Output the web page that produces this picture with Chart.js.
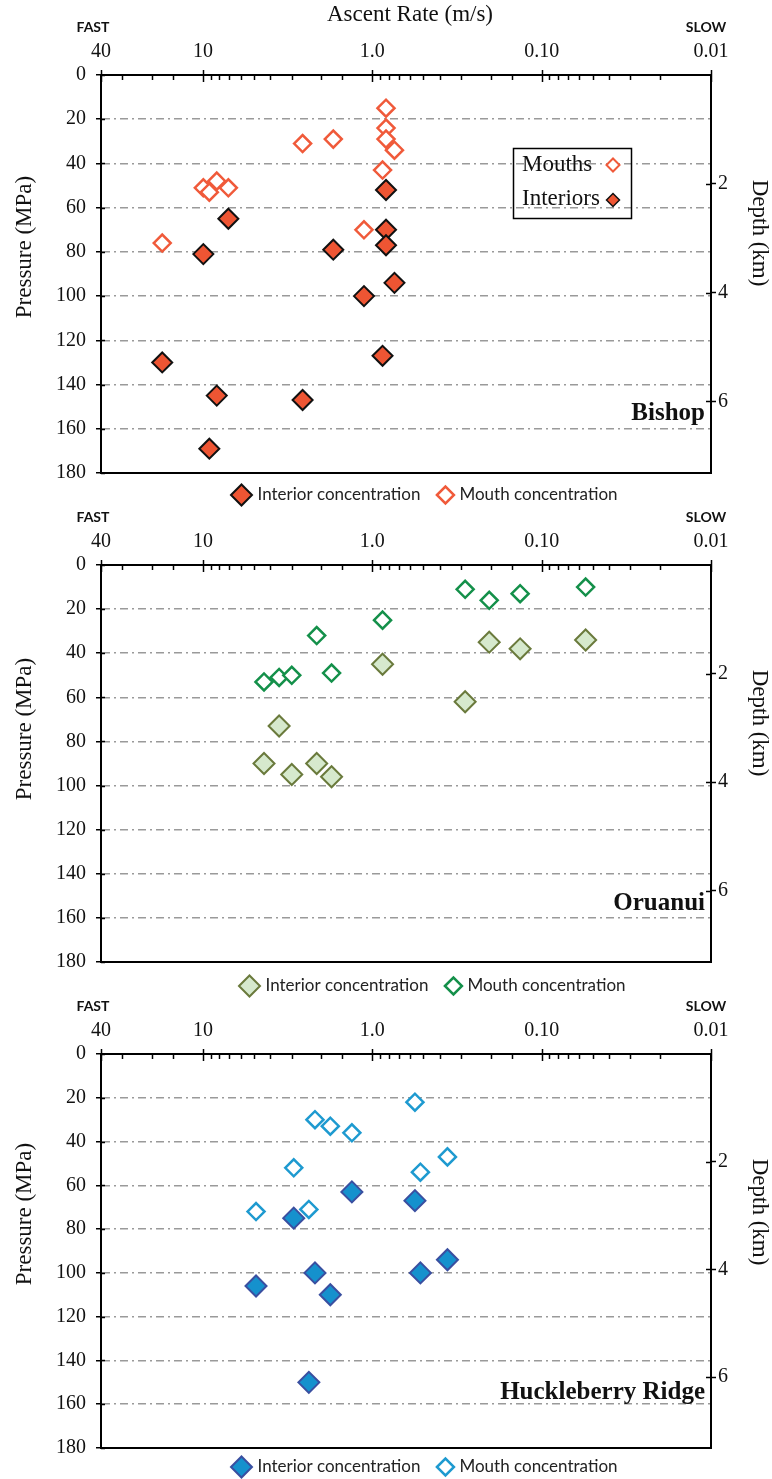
<!DOCTYPE html>
<html>
<head>
<meta charset="utf-8">
<script src="https://cdn.jsdelivr.net/npm/chart.js@4.4.0/dist/chart.umd.min.js"></script>
<style>
  body { margin: 0; background: #fff; }
  #wrap { position: relative; width: 772px; height: 1479px; }
  canvas { position: absolute; left: 0; }
</style>
</head>
<body>
<div id="wrap">
  <canvas id="bishop" width="772" height="510" style="top:0"></canvas>
  <canvas id="oruanui" width="772" height="490" style="top:510px"></canvas>
  <canvas id="huckleberry" width="772" height="479" style="top:1000px"></canvas>
</div>
<script>
// axis ticks
const rateTicks = [40, 10, 1, 0.1, 0.01];
const rateTickText = ['40', '10', '1.0', '0.10', '0.01'];
const depthTicks = [2, 4, 6];
const seriesNames = ['Interior concentration', 'Mouth concentration'];

// Bishop: ascent rate (m/s) and pressure (MPa)
const bishopInteriorRate = [0.83, 0.83, 0.83, 0.74, 1.12, 0.87, 1.70, 7.08, 9.95, 17.4, 8.29, 2.58, 9.17];
const bishopInteriorP    = [52, 70, 77, 94, 100, 127, 79, 65, 81, 130, 145, 147, 169];
const bishopMouthRate    = [0.83, 0.83, 0.83, 0.74, 0.87, 2.58, 1.70, 9.95, 9.17, 8.29, 7.08, 17.4, 1.12];
const bishopMouthP       = [15, 24, 29, 34, 43, 31, 29, 51, 53, 48, 51, 76, 70];

// Oruanui
const oruInteriorRate = [0.204, 0.134, 0.055, 0.87, 0.283, 3.55, 4.36, 2.99, 2.13, 1.74];
const oruInteriorP    = [35, 38, 34, 45, 62, 73, 90, 95, 90, 96];
const oruMouthRate    = [0.283, 0.204, 0.134, 0.055, 0.87, 2.13, 1.74, 4.36, 3.55, 2.99];
const oruMouthP       = [11, 16, 13, 10, 25, 32, 49, 53, 51, 50];

// Huckleberry Ridge
const huckInteriorRate = [1.32, 0.56, 2.91, 2.18, 1.77, 4.86, 0.52, 0.36, 2.37];
const huckInteriorP    = [63, 67, 75, 100, 110, 106, 100, 94, 150];
const huckMouthRate    = [0.56, 2.18, 1.77, 1.32, 2.91, 0.52, 0.36, 4.86, 2.37];
const huckMouthP       = [22, 30, 33, 36, 52, 54, 47, 72, 71];

const MPA_PER_KM = 24.6;
const SERIF = '"Liberation Serif", "Times New Roman", serif';
const SANS = 'Lato, "Open Sans", sans-serif';

function toPoints(xs, ys) {
    return xs.map((x, i) => ({ x: x, y: ys[i] }));
}

function rateLabel(v) {
    const i = rateTicks.findIndex(r => Math.abs(r - v) / r < 1e-6);
    return i >= 0 ? rateTickText[i] : '';
}

function diamond(ctx, x, y, r, fill, stroke, lw) {
    ctx.beginPath();
    ctx.moveTo(x - r, y);
    ctx.lineTo(x, y - r);
    ctx.lineTo(x + r, y);
    ctx.lineTo(x, y + r);
    ctx.closePath();
    ctx.fillStyle = fill;
    ctx.fill();
    ctx.lineWidth = lw;
    ctx.strokeStyle = stroke;
    ctx.stroke();
}

// ticks, titles, legends and panel names
const panelDecor = {
    id: 'panelDecor',
    afterDraw(chart, args, opts) {
        const { ctx, chartArea: area, scales } = chart;
        const xs = scales.x;
        ctx.save();

        // log ticks on the rate axis: decades cross the axis, the rest point inward
        ctx.strokeStyle = '#000';
        ctx.lineWidth = 1.5;
        xs.ticks.forEach(t => {
            const px = Math.round(xs.getPixelForValue(t.value)) + 0.5;
            const lg = Math.log10(t.value);
            const major = Math.abs(lg - Math.round(lg)) < 1e-6 || t.value === 40;
            ctx.beginPath();
            ctx.moveTo(px, area.top - (major ? 5 : 0));
            ctx.lineTo(px, area.top + (major ? 7 : 5));
            ctx.stroke();
        });
        // inner halves of the pressure and depth ticks
        scales.y.ticks.forEach(t => {
            const py = Math.round(scales.y.getPixelForValue(t.value)) + 0.5;
            ctx.beginPath();
            ctx.moveTo(area.left, py);
            ctx.lineTo(area.left + 4, py);
            ctx.stroke();
        });
        scales.y2.ticks.forEach(t => {
            const py = Math.round(scales.y2.getPixelForValue(t.value)) + 0.5;
            ctx.beginPath();
            ctx.moveTo(area.right - 5, py);
            ctx.lineTo(area.right, py);
            ctx.stroke();
        });

        ctx.fillStyle = '#111';
        ctx.textBaseline = 'middle';
        ctx.textAlign = 'center';

        if (opts.showTitle) {
            ctx.font = '23px ' + SERIF;
            ctx.fillText('Ascent Rate (m/s)', 410, area.top - 60);
        }
        ctx.font = 'bold 14px ' + SANS;
        ctx.fillText('FAST', 93, area.top - 48);
        ctx.fillText('SLOW', 706, area.top - 48);

        // axis titles
        ctx.font = '23px ' + SERIF;
        ctx.save();
        ctx.translate(25, area.top + opts.pressureTitleDy);
        ctx.rotate(-Math.PI / 2);
        ctx.fillText('Pressure (MPa)', 0, 0);
        ctx.restore();
        ctx.save();
        ctx.translate(759, area.top + 158);
        ctx.rotate(Math.PI / 2);
        ctx.fillText('Depth (km)', 0, 0);
        ctx.restore();

        // panel name
        ctx.font = 'bold 25px ' + SERIF;
        ctx.textAlign = 'right';
        ctx.textBaseline = 'alphabetic';
        ctx.fillText(opts.name, area.right - 6, area.top + 345);

        const ds = chart.data.datasets;
        const interior = ds[0], mouth = ds[1];

        // inset key
        if (opts.inset) {
            const bx = 513, by = area.top + 73, bw = 118, bh = 70;
            ctx.lineWidth = 1.5;
            ctx.strokeStyle = '#000';
            ctx.strokeRect(bx + 0.5, by + 0.5, bw, bh);
            ctx.font = '23px ' + SERIF;
            ctx.textAlign = 'left';
            ctx.textBaseline = 'alphabetic';
            ctx.fillStyle = '#111';
            ctx.fillText('Mouths', bx + 9, by + 23);
            ctx.fillText('Interiors', bx + 9, by + 57);
            diamond(ctx, bx + 100, by + 17, 6.5, '#fff', mouth.pointBorderColor, 2);
            diamond(ctx, bx + 100, by + 52, 6.5, interior.pointBackgroundColor, interior.pointBorderColor, 1.5);
        }

        // series key under the plot
        ctx.font = '17px ' + SANS;
        ctx.textAlign = 'left';
        ctx.textBaseline = 'middle';
        const ly = area.bottom + opts.legendDy;
        const w0 = ctx.measureText(interior.label).width;
        const w1 = ctx.measureText(mouth.label).width;
        const total = 22 + 5 + w0 + 16 + 18 + 5 + w1;
        let lx = opts.legendCx - total / 2;
        diamond(ctx, lx + 11, ly, 10.5, interior.pointBackgroundColor, interior.pointBorderColor, interior.pointBorderWidth);
        lx += 22 + 5;
        ctx.fillStyle = '#222';
        ctx.fillText(interior.label, lx, ly);
        lx += w0 + 16;
        diamond(ctx, lx + 9, ly, 8.5, '#fff', mouth.pointBorderColor, mouth.pointBorderWidth);
        lx += 18 + 5;
        ctx.fillStyle = '#222';
        ctx.fillText(mouth.label, lx, ly);

        ctx.restore();
    }
};

function makePanel(id, p) {
    return new Chart(document.getElementById(id), {
        type: 'scatter',
        data: {
            datasets: [{
                label: seriesNames[0],
                data: toPoints(p.interiorRate, p.interiorP),
                pointStyle: 'rectRot',
                pointRadius: p.interiorR,
                pointHoverRadius: p.interiorR,
                pointBackgroundColor: p.interiorFill,
                pointBorderColor: p.interiorStroke,
                pointBorderWidth: p.interiorLw,
            }, {
                label: seriesNames[1],
                data: toPoints(p.mouthRate, p.mouthP),
                pointStyle: 'rectRot',
                pointRadius: p.mouthR,
                pointHoverRadius: p.mouthR,
                pointBackgroundColor: '#fff',
                pointBorderColor: p.mouthStroke,
                pointBorderWidth: 2.5,
            }],
        },
        options: {
            responsive: false,
            animation: false,
            events: [],
            layout: { padding: { top: p.padTop, bottom: p.padBottom, left: 0, right: 0 } },
            plugins: {
                legend: { display: false },
                tooltip: { enabled: false },
                panelDecor: {
                    name: p.name,
                    showTitle: p.showTitle,
                    inset: p.inset,
                    legendCx: p.legendCx,
                    legendDy: p.legendDy,
                    pressureTitleDy: p.pressureTitleDy,
                },
            },
            scales: {
                x: {
                    type: 'logarithmic',
                    position: 'top',
                    min: 0.01,
                    max: 40,
                    reverse: true,
                    grid: { display: false, drawTicks: false },
                    border: { display: true, color: '#000', width: 2 },
                    ticks: {
                        autoSkip: false,
                        maxRotation: 0,
                        padding: 11,
                        color: '#111',
                        font: { family: SERIF, size: 20 },
                        callback: rateLabel,
                    },
                    afterFit: s => { s.height = 40; },
                },
                x2: {
                    type: 'linear',
                    position: 'bottom',
                    grid: { display: false },
                    ticks: { display: false },
                    border: { display: true, color: '#000', width: 2 },
                    afterFit: s => { s.height = 0; },
                },
                y: {
                    position: 'left',
                    min: 0,
                    max: 180,
                    reverse: true,
                    ticks: { stepSize: 20, padding: 10, color: '#111', font: { family: SERIF, size: 20 } },
                    grid: {
                        color: c => (c.tick && c.tick.value > 0 && c.tick.value < 180) ? '#9a9a9a' : 'rgba(0,0,0,0)',
                        lineWidth: 1.5,
                        tickColor: '#000',
                        tickWidth: 1.5,
                        tickLength: 5,
                    },
                    border: { display: true, color: '#000', width: 2, dash: [8, 4, 2, 4] },
                    afterFit: s => { s.width = 101; },
                },
                y2: {
                    position: 'right',
                    min: 0,
                    max: 180 / MPA_PER_KM,
                    reverse: true,
                    afterBuildTicks: s => { s.ticks = depthTicks.map(v => ({ value: v })); },
                    ticks: { padding: 2, color: '#111', font: { family: SERIF, size: 20 } },
                    grid: { drawOnChartArea: false, tickColor: '#000', tickWidth: 1.5, tickLength: 5 },
                    border: { display: true, color: '#000', width: 2 },
                    afterFit: s => { s.width = 61; },
                },
            },
        },
        plugins: [panelDecor],
    });
}

makePanel('bishop', {
    name: 'Bishop', showTitle: true, inset: true,
    interiorRate: bishopInteriorRate, interiorP: bishopInteriorP,
    mouthRate: bishopMouthRate, mouthP: bishopMouthP,
    interiorFill: '#ee5533', interiorStroke: '#111', interiorLw: 2, interiorR: 10,
    mouthStroke: '#f05a3a', mouthR: 8.5,
    padTop: 35, padBottom: 37, legendCx: 424, legendDy: 22, pressureTitleDy: 172,
});

makePanel('oruanui', {
    name: 'Oruanui', showTitle: false, inset: false,
    interiorRate: oruInteriorRate, interiorP: oruInteriorP,
    mouthRate: oruMouthRate, mouthP: oruMouthP,
    interiorFill: '#d6e9cd', interiorStroke: '#6a7a3c', interiorLw: 2, interiorR: 10.5,
    mouthStroke: '#14904a', mouthR: 8.5,
    padTop: 15, padBottom: 38, legendCx: 432, legendDy: 24, pressureTitleDy: 164,
});

makePanel('huckleberry', {
    name: 'Huckleberry Ridge', showTitle: false, inset: false,
    interiorRate: huckInteriorRate, interiorP: huckInteriorP,
    mouthRate: huckMouthRate, mouthP: huckMouthP,
    interiorFill: '#1591cd', interiorStroke: '#3a4fa0', interiorLw: 2, interiorR: 10.5,
    mouthStroke: '#1e9ad0', mouthR: 8.5,
    padTop: 14, padBottom: 31, legendCx: 424, legendDy: 19, pressureTitleDy: 160,
});
</script>
</body>
</html>
